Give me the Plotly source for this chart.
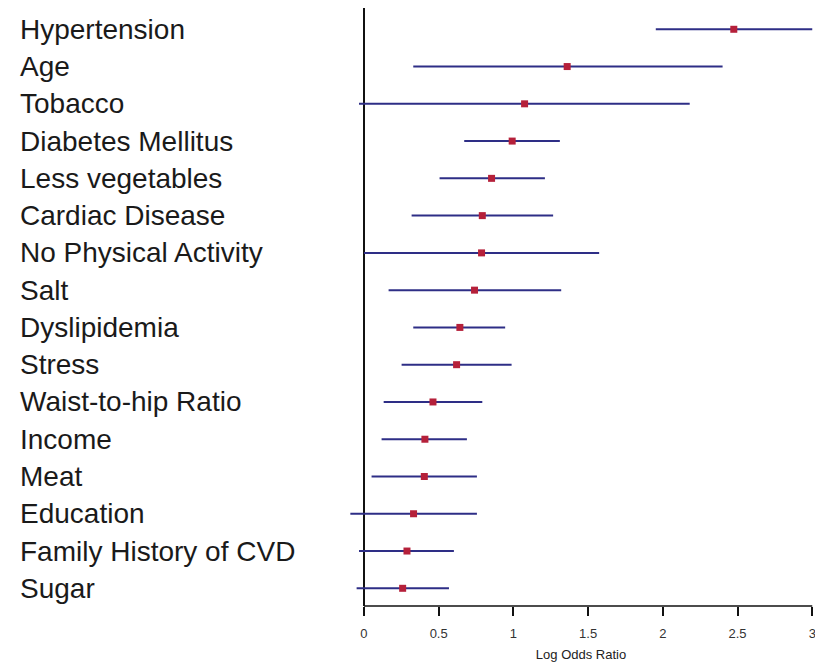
import plotly.graph_objects as go

factors = ["Hypertension", "Age", "Tobacco", "Diabetes Mellitus", "Less vegetables",
           "Cardiac Disease", "No Physical Activity", "Salt", "Dyslipidemia", "Stress",
           "Waist-to-hip Ratio", "Income", "Meat", "Education", "Family History of CVD", "Sugar"]
log_or = [2.475, 1.36, 1.075, 0.992, 0.854, 0.792, 0.787, 0.74, 0.642, 0.62,
          0.462, 0.408, 0.404, 0.332, 0.288, 0.259]
ci_low = [1.953, 0.33, -0.033, 0.671, 0.506, 0.319, 0.0, 0.165, 0.33, 0.252,
          0.132, 0.118, 0.051, -0.091, -0.033, -0.049]
ci_high = [3.0, 2.40, 2.18, 1.311, 1.211, 1.266, 1.574, 1.32, 0.945, 0.988,
           0.792, 0.689, 0.756, 0.756, 0.602, 0.569]
x_ticks = [0, 0.5, 1, 1.5, 2, 2.5, 3]
x_ticklabels = ["0", "0.5", "1", "1.5", "2", "2.5", "3"]

err_plus = [h - m for h, m in zip(ci_high, log_or)]
err_minus = [m - l for m, l in zip(log_or, ci_low)]

fig = go.Figure()
fig.add_trace(go.Scatter(
    x=log_or, y=factors, mode="markers",
    marker=dict(symbol="square", size=7, color="#B5203A"),
    error_x=dict(type="data", symmetric=False, array=err_plus, arrayminus=err_minus,
                 color="#2E2E86", thickness=2, width=0),
    showlegend=False, hoverinfo="skip",
))

for f in factors:
    fig.add_annotation(x=-0.7126, xref="paper", y=f, yref="y", text=f,
                       showarrow=False, xanchor="left", yanchor="middle",
                       font=dict(family="Liberation Sans, Arial, sans-serif", size=28, color="#1a1a1a"))

# horizontal axis line from 0 to 3
fig.add_shape(type="line", x0=x_ticks[0], x1=x_ticks[-1], xref="x", y0=0, y1=0, yref="paper",
              line=dict(color="#111111", width=1.5))

fig.update_layout(
    width=815, height=664,
    margin=dict(l=349, r=2, t=8, b=58, autoexpand=False),
    plot_bgcolor="white", paper_bgcolor="white",
    font=dict(family="Liberation Sans, Arial, sans-serif"),
)
fig.update_xaxes(
    range=[-0.1, 3.005], tickvals=x_ticks, ticktext=x_ticklabels,
    showgrid=False, showline=False, zeroline=True, zerolinecolor="#111111", zerolinewidth=1.5,
    ticks="outside", ticklen=9, tickwidth=1.5, tickcolor="#111111",
    tickfont=dict(size=13, color="#333333"), ticklabelstandoff=6,
    ticklabeloverflow="allow", automargin=False,
    title=dict(text="Log Odds Ratio", font=dict(size=13, color="#222222"), standoff=10),
)
fig.update_yaxes(
    categoryorder="array", categoryarray=factors,
    range=[15.475, -0.571], showticklabels=False, showgrid=False, zeroline=False,
    showline=False, ticks="",
)

fig.write_html("out.html")
